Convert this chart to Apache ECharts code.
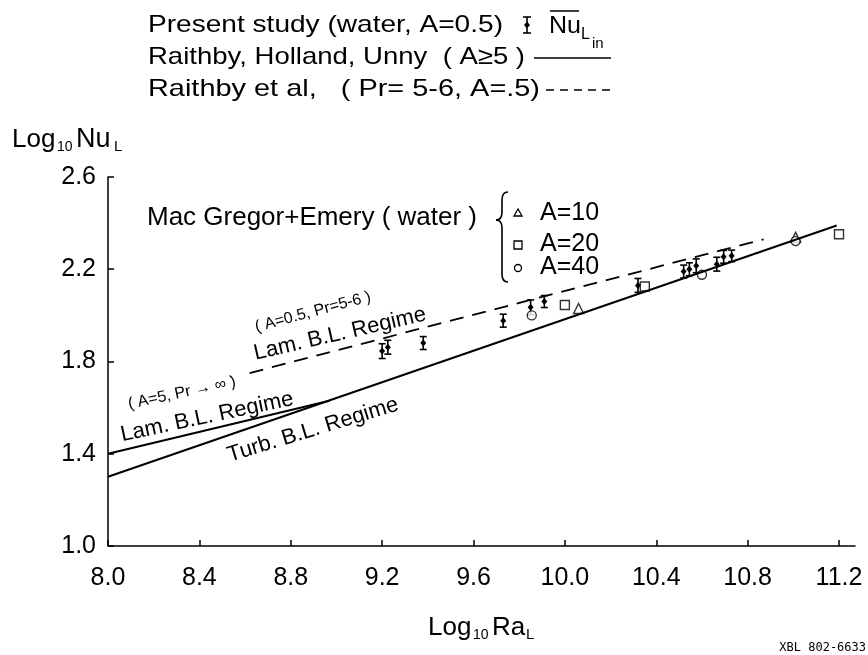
<!DOCTYPE html>
<html>
<head>
<meta charset="utf-8">
<script src="https://cdn.jsdelivr.net/npm/echarts@6/dist/echarts.min.js"></script>
<style>
  html, body { margin: 0; padding: 0; background: #fff; }
  #chart { width: 868px; height: 655px; }
</style>
</head>
<body>
<div id="chart"></div>
<script>
// tick values of both axes
var xTicks = [8.0, 8.4, 8.8, 9.2, 9.6, 10.0, 10.4, 10.8, 11.2];
var yTicks = [1.0, 1.4, 1.8, 2.2, 2.6];

// Raithby, Holland, Unny (A>=5): turbulent and laminar branches
var turbLine = [[8.0, 1.30], [11.19, 2.39]];
var lamLine = [[8.0, 1.40], [8.97, 1.63]];
// Raithby et al (Pr=5-6, A=.5)
var lamDashed = [[8.62, 1.75], [10.87, 2.33]];

// present study: [log Ra, mean log Nu, half of error bar]
var present = [
  [9.20, 1.845, 0.032], [9.225, 1.862, 0.030], [9.38, 1.880, 0.028],
  [9.73, 1.977, 0.028], [9.85, 2.035, 0.032], [9.91, 2.060, 0.026],
  [10.32, 2.130, 0.030], [10.52, 2.190, 0.028], [10.545, 2.200, 0.028],
  [10.575, 2.215, 0.030], [10.665, 2.222, 0.030], [10.695, 2.254, 0.028],
  [10.73, 2.258, 0.025]
];

// Mac Gregor + Emery (water)
var macA10 = [[10.06, 2.030], [11.01, 2.338]];
var macA20 = [[10.0, 2.045], [10.35, 2.125], [11.2, 2.352]];
var macA40 = [[9.855, 2.000], [10.6, 2.176], [11.01, 2.322]];

var chart = echarts.init(document.getElementById('chart'));

var txt = '#000';
var font = "'Liberation Sans', Arial, sans-serif";

// measure text so a line can be fitted to the width it has in the figure
var ctx = document.createElement('canvas').getContext('2d');
function measure(text, size) {
  ctx.font = size + 'px ' + font;
  return ctx.measureText(text).width;
}

function diamond(cx, cy) {
  return {
    type: 'polygon',
    shape: { points: [[cx, cy - 3.5], [cx + 3, cy], [cx, cy + 3.5], [cx - 3, cy]] },
    style: { fill: '#000' }
  };
}

function seg(x1, y1, x2, y2, w, dash) {
  return {
    type: 'line', shape: { x1: x1, y1: y1, x2: x2, y2: y2 },
    style: { stroke: '#000', lineWidth: w || 1.6, lineDash: dash || null }
  };
}

function curve(x1, y1, cx, cy, x2, y2) {
  return {
    type: 'bezierCurve', shape: { x1: x1, y1: y1, cpx1: cx, cpy1: cy, x2: x2, y2: y2 },
    style: { fill: null, stroke: '#000', lineWidth: 1.6 }
  };
}

function label(text, x, y, size, rot) {
  return {
    type: 'text', x: x, y: y, rotation: (rot || 0) * Math.PI / 180,
    style: {
      text: text, fill: txt, font: size + 'px ' + font,
      textAlign: 'center', textVerticalAlign: 'middle'
    }
  };
}

function leftText(text, x, y, size, width) {
  var sx = width ? width / measure(text, size) : 1;
  return {
    type: 'text', x: x, y: y, scaleX: sx,
    style: {
      text: text, fill: txt, font: size + 'px ' + font,
      textAlign: 'left', textVerticalAlign: 'middle'
    }
  };
}

var option = {
  backgroundColor: '#fff',
  animation: false,
  grid: { left: 108, right: 13, top: 177, bottom: 109, outerBoundsMode: 'none' },
  xAxis: {
    type: 'value', min: 8.0, max: 11.27,
    axisLine: { lineStyle: { color: '#000', width: 1.5 } },
    axisTick: { inside: true, length: 6, customValues: xTicks, lineStyle: { color: '#000', width: 1.5 } },
    axisLabel: {
      customValues: xTicks, margin: 20, color: txt, fontSize: 25, fontFamily: font,
      formatter: function (v) { return v.toFixed(1); }
    },
    splitLine: { show: false }
  },
  yAxis: {
    type: 'value', min: 1.0, max: 2.6,
    axisLine: { show: true, lineStyle: { color: '#000', width: 1.5 } },
    axisTick: { show: true, inside: true, length: 6, customValues: yTicks, lineStyle: { color: '#000', width: 1.5 } },
    axisLabel: {
      customValues: yTicks, margin: 12, color: txt, fontSize: 25, fontFamily: font,
      formatter: function (v) { return v.toFixed(1); }
    },
    splitLine: { show: false }
  },
  series: [
    {
      type: 'line', data: turbLine, symbol: 'none',
      lineStyle: { color: '#000', width: 2 }
    },
    {
      type: 'line', data: lamLine, symbol: 'none',
      lineStyle: { color: '#000', width: 2 }
    },
    {
      type: 'line', data: lamDashed, symbol: 'none',
      lineStyle: { color: '#000', width: 1.8, type: [14, 9] }
    },
    {
      type: 'custom', data: present, clip: false,
      renderItem: function (params, api) {
        var x = api.value(0), m = api.value(1), h = api.value(2);
        var top = api.coord([x, m + h]);
        var bot = api.coord([x, m - h]);
        var mid = api.coord([x, m]);
        return {
          type: 'group',
          children: [
            seg(top[0], top[1], bot[0], bot[1]),
            seg(top[0] - 3.5, top[1], top[0] + 3.5, top[1]),
            seg(bot[0] - 3.5, bot[1], bot[0] + 3.5, bot[1]),
            diamond(mid[0], mid[1])
          ]
        };
      }
    },
    {
      type: 'scatter', data: macA10, symbol: 'triangle', symbolSize: 10, clip: false,
      itemStyle: { color: '#fff', borderColor: '#000', borderWidth: 1.4 }
    },
    {
      type: 'scatter', data: macA20, symbol: 'rect', symbolSize: 9, clip: false,
      itemStyle: { color: '#fff', borderColor: '#000', borderWidth: 1.4 }
    },
    {
      type: 'scatter', data: macA40, symbol: 'circle', symbolSize: 9, clip: false,
      itemStyle: { color: '#fff', borderColor: '#000', borderWidth: 1.4 }
    }
  ],
  graphic: [
    // header key
    leftText('Present study (water, A=0.5)', 148, 25, 24, 355),
    seg(527, 17, 527, 33), seg(523, 17, 531, 17), seg(523, 33, 531, 33),
    diamond(527, 25),
    leftText('Nu', 549, 26, 24, 32),
    seg(550, 11, 579, 11, 1.5),
    leftText('L', 581, 35, 16),
    leftText('in', 592, 44, 15),
    leftText('Raithby, Holland, Unny  ( A\u22655 )', 148, 57, 24, 377),
    seg(534, 58, 611, 58),
    leftText('Raithby et al,   ( Pr= 5-6, A=.5)', 148, 89, 24, 392),
    seg(546, 90, 612, 90, 1.6, [8, 6]),

    // axis titles
    leftText('Log', 12, 140, 26),
    leftText('10', 57, 147, 14),
    leftText('Nu', 76, 140, 27),
    leftText('L', 114, 147, 15),
    leftText('Log', 428, 628, 26),
    leftText('10', 473, 635, 14),
    leftText('Ra', 492, 628, 26),
    leftText('L', 526, 635, 15),
    {
      type: 'text', x: 866, y: 648,
      style: { text: 'XBL 802-6633', fill: txt, font: "12px 'DejaVu Sans Mono', monospace", textAlign: 'right', textVerticalAlign: 'middle' }
    },

    // Mac Gregor + Emery key
    leftText('Mac Gregor+Emery ( water )', 147, 218, 25, 330),
    curve(508, 192, 502, 192, 502, 200),
    seg(502, 200, 502, 212),
    curve(502, 212, 502, 220, 496, 220),
    curve(496, 220, 502, 220, 502, 228),
    seg(502, 228, 502, 274),
    curve(502, 274, 502, 282, 508, 282),
    { type: 'polygon', shape: { points: [[518, 209], [522, 216], [514, 216]] }, style: { fill: '#fff', stroke: '#000', lineWidth: 1.3 } },
    { type: 'rect', shape: { x: 514, y: 241, width: 8, height: 8 }, style: { fill: '#fff', stroke: '#000', lineWidth: 1.3 } },
    { type: 'circle', shape: { cx: 518, cy: 268, r: 3.5 }, style: { fill: '#fff', stroke: '#000', lineWidth: 1.3 } },
    leftText('A=10', 540, 213, 25),
    leftText('A=20', 540, 244, 25),
    leftText('A=40', 540, 267, 25),

    // regime annotations
    label('( A=0.5, Pr=5-6 )', 313, 312, 16, 15),
    label('Lam. B.L. Regime', 340, 334, 22, 13),
    label('( A=5, Pr \u2192 \u221E )', 182, 393, 16, 12),
    label('Lam. B.L. Regime', 207, 417, 22, 12),
    label('Turb. B.L. Regime', 313, 430, 22, 17)
  ]
};

chart.setOption(option);
</script>
</body>
</html>
